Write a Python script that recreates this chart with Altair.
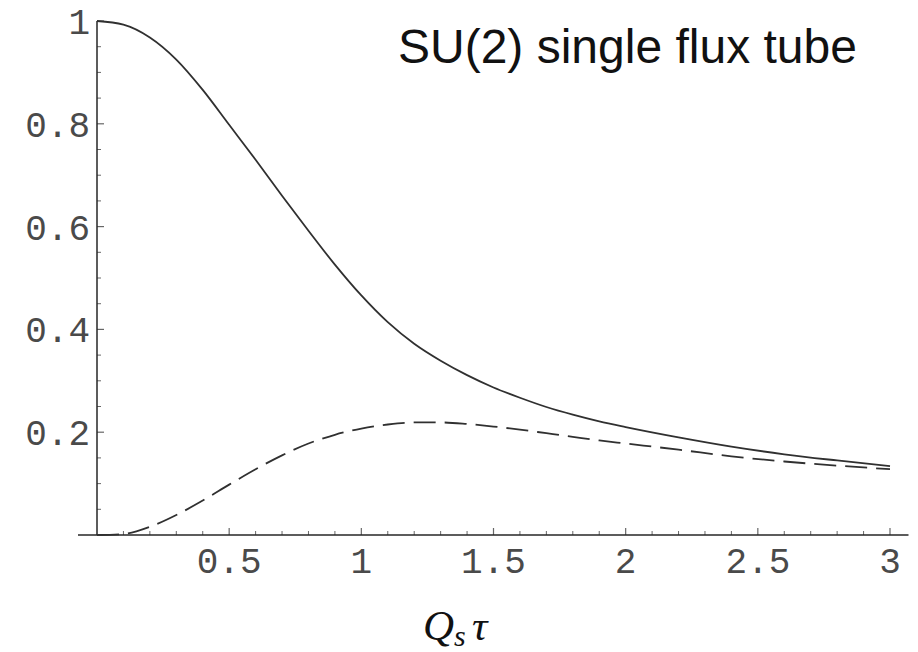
import altair as alt
import pandas as pd

# ---- data ----
qs_tau = [0.0, 0.1, 0.2, 0.3, 0.4, 0.5, 0.6, 0.7, 0.8, 0.9, 1.0, 1.1, 1.2, 1.3,
          1.4, 1.5, 1.6, 1.7, 1.8, 1.9, 2.0, 2.2, 2.4, 2.6, 2.8, 3.0]
solid_vals = [1.000, 0.993, 0.968, 0.925, 0.866, 0.798, 0.730, 0.660, 0.592, 0.526,
              0.466, 0.414, 0.372, 0.339, 0.311, 0.287, 0.267, 0.249, 0.234, 0.221,
              0.210, 0.190, 0.172, 0.157, 0.145, 0.134]
dashed_vals = [0.000, 0.002, 0.016, 0.039, 0.067, 0.098, 0.128, 0.155, 0.178, 0.195,
               0.207, 0.215, 0.219, 0.219, 0.216, 0.211, 0.205, 0.198, 0.191, 0.184,
               0.178, 0.166, 0.153, 0.143, 0.135, 0.128]

x_major = [0.5, 1.0, 1.5, 2.0, 2.5, 3.0]
x_labels = ["0.5", "1", "1.5", "2", "2.5", "3"]
x_minor = [0.1, 0.2, 0.3, 0.4, 0.6, 0.7, 0.8, 0.9, 1.1, 1.2, 1.3, 1.4, 1.6, 1.7,
           1.8, 1.9, 2.1, 2.2, 2.3, 2.4, 2.6, 2.7, 2.8, 2.9]
y_major = [0.2, 0.4, 0.6, 0.8, 1.0]
y_labels = ["0.2", "0.4", "0.6", "0.8", "1"]
y_minor = [0.05, 0.1, 0.15, 0.25, 0.3, 0.35, 0.45, 0.5, 0.55, 0.65, 0.7, 0.75,
           0.85, 0.9, 0.95]
x_axis_span = [-0.072, 3.07]

title_text = "SU(2) single flux tube"

# ---- tables ----
curves = pd.DataFrame({"x": qs_tau, "solid": solid_vals, "dashed": dashed_vals})
xmaj = pd.DataFrame({"x": x_major, "label": x_labels})
xmin = pd.DataFrame({"x": x_minor})
ymaj = pd.DataFrame({"y": y_major, "label": y_labels})
ymin = pd.DataFrame({"y": y_minor})

xs = alt.Scale(domain=[0, 3], nice=False, zero=False)
ys = alt.Scale(domain=[0, 1], nice=False, zero=False)
ink = "#262626"
label_ink = "#4a4a4a"
tick_font = "Liberation Mono"

base = alt.Chart(curves)

solid = base.mark_line(color="#303030", strokeWidth=1.8, interpolate="monotone").encode(
    x=alt.X("x:Q", scale=xs, axis=None),
    y=alt.Y("solid:Q", scale=ys, axis=None),
)
dashed = base.mark_line(color="#303030", strokeWidth=1.8, strokeDash=[22, 9],
                        interpolate="monotone").encode(
    x=alt.X("x:Q", scale=xs, axis=None),
    y=alt.Y("dashed:Q", scale=ys, axis=None),
)

x_axis_line = alt.Chart(pd.DataFrame({"a": [x_axis_span[0]], "b": [x_axis_span[1]]})).mark_rule(
    color=ink, strokeWidth=1.5).encode(
    x=alt.X("a:Q", scale=xs, axis=None),
    x2="b:Q",
    y=alt.Y(datum=0, scale=ys, axis=None),
)
y_axis_line = alt.Chart(pd.DataFrame({"a": [0.0], "b": [1.0]})).mark_rule(
    color=ink, strokeWidth=1.5).encode(
    x=alt.X(datum=0, scale=xs, axis=None),
    y=alt.Y("a:Q", scale=ys, axis=None),
    y2="b:Q",
)

x_major_ticks = alt.Chart(xmaj).mark_tick(
    orient="vertical", size=7, thickness=1.2, color=ink, yOffset=-3.5).encode(
    x=alt.X("x:Q", scale=xs, axis=None),
    y=alt.Y(datum=0, scale=ys, axis=None),
)
x_minor_ticks = alt.Chart(xmin).mark_tick(
    orient="vertical", size=4, thickness=1, color=ink, yOffset=-2).encode(
    x=alt.X("x:Q", scale=xs, axis=None),
    y=alt.Y(datum=0, scale=ys, axis=None),
)
y_major_ticks = alt.Chart(ymaj).mark_tick(
    orient="horizontal", size=7, thickness=1.2, color=ink, xOffset=3.5).encode(
    y=alt.Y("y:Q", scale=ys, axis=None),
    x=alt.X(datum=0, scale=xs, axis=None),
)
y_minor_ticks = alt.Chart(ymin).mark_tick(
    orient="horizontal", size=4, thickness=1, color=ink, xOffset=2).encode(
    y=alt.Y("y:Q", scale=ys, axis=None),
    x=alt.X(datum=0, scale=xs, axis=None),
)

x_tick_text = alt.Chart(xmaj).mark_text(
    font=tick_font, fontSize=36, color=label_ink, align="center", baseline="middle",
    dy=27).encode(
    x=alt.X("x:Q", scale=xs, axis=None),
    y=alt.Y(datum=0, scale=ys, axis=None),
    text="label:N",
)
y_tick_text = alt.Chart(ymaj).mark_text(
    font=tick_font, fontSize=36, color=label_ink, align="right", baseline="middle",
    dx=-7, dy=2).encode(
    y=alt.Y("y:Q", scale=ys, axis=None),
    x=alt.X(datum=0, scale=xs, axis=None),
    text="label:N",
)

title = alt.Chart(pd.DataFrame({"t": [title_text]})).mark_text(
    font="Liberation Sans", fontSize=48, color="#111111", align="left",
    baseline="alphabetic").encode(
    x=alt.value(301), y=alt.value(42), text="t:N")

xlab_q = alt.Chart(pd.DataFrame({"t": ["Q"]})).mark_text(
    font="Liberation Serif", fontSize=43, fontStyle="italic", color="#111111",
    align="left", baseline="alphabetic").encode(
    x=alt.value(326), y=alt.value(619), text="t:N")
xlab_s = alt.Chart(pd.DataFrame({"t": ["s"]})).mark_text(
    font="Liberation Serif", fontSize=30, fontStyle="italic", color="#111111",
    align="left", baseline="alphabetic").encode(
    x=alt.value(357), y=alt.value(625), text="t:N")
xlab_tau = alt.Chart(pd.DataFrame({"t": ["τ"]})).mark_text(
    font="Liberation Serif", fontSize=43, fontStyle="italic", color="#111111",
    align="left", baseline="alphabetic").encode(
    x=alt.value(375), y=alt.value(619), text="t:N")

chart = alt.layer(
    x_axis_line, y_axis_line, x_minor_ticks, x_major_ticks, y_minor_ticks,
    y_major_ticks, x_tick_text, y_tick_text, solid, dashed, title,
    xlab_q, xlab_s, xlab_tau,
).properties(
    width=793, height=514,
    autosize=alt.AutoSizeParams(type="none"),
    padding={"left": 97, "top": 21, "right": 28, "bottom": 117},
    background="white",
).configure_view(stroke=None)

chart.save("out.html", embed_options={"renderer": "svg", "actions": False})
